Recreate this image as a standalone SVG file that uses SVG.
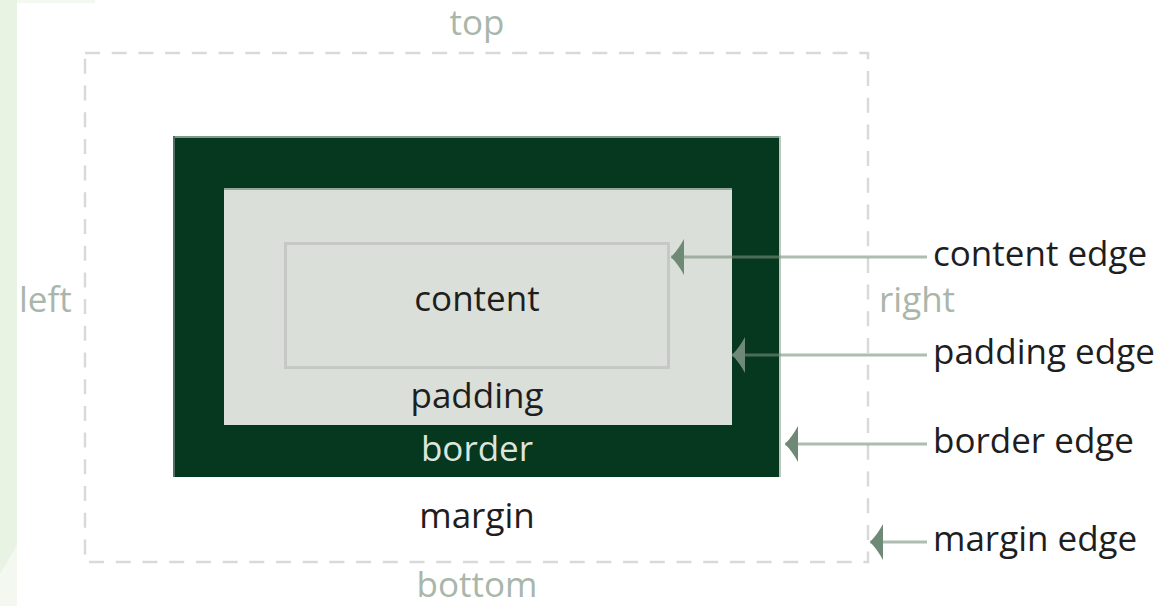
<svg xmlns="http://www.w3.org/2000/svg" width="1162" height="606" viewBox="0 0 1162 606">
  <style>
    text { font-family: "Open Sans", "Noto Sans", "Liberation Sans", sans-serif; font-size: 35px; }
    .side { fill: #a9b6aa; }
    .dark { fill: #1e1e1e; }
    .lbl { fill: #1e1e1e; }
    .conn { stroke: #798f7d; stroke-opacity: 0.6; stroke-width: 3; fill: none; }
    .head { fill: #6e8a76; }
  </style>
  <defs>
    <marker id="arrow" markerUnits="userSpaceOnUse" markerWidth="14" markerHeight="40" refX="13" refY="19" orient="auto" viewBox="0 0 14 40">
      <path class="head" d="M13,19 Q6,12 0,1 L0,37 Q6,26 13,19 Z"/>
    </marker>
  </defs>
  <rect x="0" y="0" width="1162" height="606" fill="#ffffff"/>
  <g id="background">
    <rect x="0" y="0" width="17" height="606" fill="#f3f8f0"/>
    <polygon points="0,0 17,0 17,545 0,574" fill="#e8f3e3"/>
    <rect x="17" y="0" width="78" height="3" fill="#f3f8f0"/>
  </g>
  <g id="margin">
    <rect x="85" y="53" width="783" height="509" fill="none" stroke="#d9d9d9" stroke-width="2.5" stroke-dasharray="15 11.7"/>
    <text class="side" x="477" y="35" text-anchor="middle">top</text>
    <text class="side" x="477" y="597" text-anchor="middle">bottom</text>
    <text class="side" x="19" y="312">left</text>
    <text class="side" x="879" y="312">right</text>
    <text class="dark" x="477" y="528" text-anchor="middle">margin</text>
  </g>
  <g id="border">
    <rect x="173" y="136" width="607" height="341" fill="#06381f"/>
    <line x1="173" y1="137" x2="780" y2="137" stroke="#809a8a" stroke-width="2"/>
    <line x1="174" y1="136" x2="174" y2="477" stroke="#4f7060" stroke-width="2"/>
    <line x1="780" y1="136" x2="780" y2="477" stroke="#b9c7bd" stroke-width="2"/>
    <text x="477" y="461" text-anchor="middle" fill="#dce6de">border</text>
  </g>
  <g id="padding">
    <rect x="224" y="188" width="508" height="237" fill="#dadfd9"/>
    <line x1="224" y1="189" x2="732" y2="189" stroke="#92a799" stroke-width="2"/>
    <text class="dark" x="477" y="408" text-anchor="middle">padding</text>
  </g>
  <g id="content">
    <rect x="285.5" y="243.5" width="383" height="124" fill="#dadfd9" stroke="#c6c8c6" stroke-width="3"/>
    <text class="dark" x="477" y="311" text-anchor="middle">content</text>
  </g>
  <g id="connectors">
    <line class="conn" x1="927" y1="257" x2="671" y2="257" marker-end="url(#arrow)"/>
    <line class="conn" x1="927" y1="355" x2="732" y2="355" marker-end="url(#arrow)"/>
    <line class="conn" x1="927" y1="444" x2="785" y2="444" marker-end="url(#arrow)"/>
    <line class="conn" x1="927" y1="542" x2="870" y2="542" marker-end="url(#arrow)"/>
  </g>
  <g id="labels">
    <text class="lbl" x="933" y="266">content edge</text>
    <text class="lbl" x="933" y="364">padding edge</text>
    <text class="lbl" x="933" y="453">border edge</text>
    <text class="lbl" x="933" y="551">margin edge</text>
  </g>
</svg>
